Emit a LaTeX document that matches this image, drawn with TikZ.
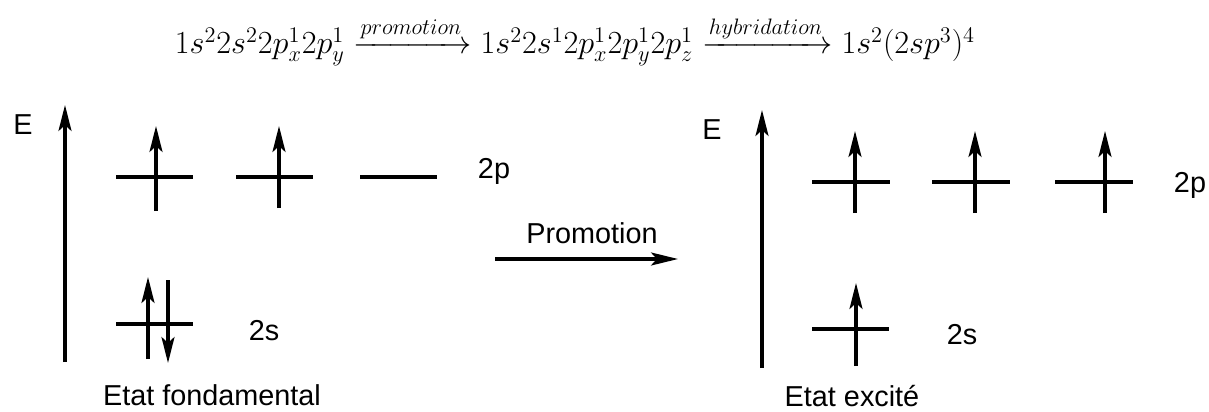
\documentclass[tikz,border=0pt]{standalone}
\usepackage{amsmath}
\usepackage{graphicx}
\usepackage{fontspec}
\setmainfont{Liberation Sans}
\usetikzlibrary{arrows.meta}

\begin{document}
\begin{tikzpicture}[
        x=0.02cm, y=-0.02cm,
        every node/.style={font=\fontsize{16.4}{19}\selectfont, inner sep=0pt},
        lvl/.style={line width=1.8pt},
        ax/.style={line width=1.8pt, -{Stealth[length=26*0.02cm, width=13*0.02cm, inset=6*0.02cm]}},
        spin/.style={line width=1.8pt, -{Stealth[length=26*0.02cm, width=13*0.02cm, inset=6*0.02cm]}},
        arr/.style={line width=1.8pt, -{Stealth[length=27*0.02cm, width=13*0.02cm, inset=6*0.02cm]}},
        lbl/.style={anchor=base},
      ]
      \useasboundingbox (0,0) rectangle (1209,412);

      % formula
      \node[lbl] (eq) at (575,54) {\fontsize{17.28}{21}\selectfont\scalebox{1.06}{%
        $1s^2 2s^2 2p_x^1 2p_y^1 \xrightarrow{promotion} 1s^2 2s^1 2p_x^1 2p_y^1 2p_z^1
        \xrightarrow{hybridation} 1s^2 (2sp^3)^4$}};

      % ground state
      \coordinate (ga0) at (65,362);
      \coordinate (ga1) at (65,105);
      \draw[ax] (ga0) -- (ga1);
      \node (gE) at (23,125) {E};

      \coordinate (gp1a) at (116,177); \coordinate (gp1b) at (193,177);
      \coordinate (gp2a) at (236,177); \coordinate (gp2b) at (313,177);
      \coordinate (gp3a) at (360,177); \coordinate (gp3b) at (437,177);
      \draw[lvl] (gp1a) -- (gp1b);
      \draw[lvl] (gp2a) -- (gp2b);
      \draw[lvl] (gp3a) -- (gp3b);
      \coordinate (gu1a) at (156,211); \coordinate (gu1b) at (156,126);
      \coordinate (gu2a) at (279,208); \coordinate (gu2b) at (279,126);
      \draw[spin] (gu1a) -- (gu1b);
      \draw[spin] (gu2a) -- (gu2b);
      \node[lbl] (g2p) at (494,178) {2p};

      \coordinate (gsa) at (116,324); \coordinate (gsb) at (193,324);
      \draw[lvl] (gsa) -- (gsb);
      \coordinate (gs1a) at (148,359); \coordinate (gs1b) at (148,277);
      \coordinate (gs2a) at (168,280); \coordinate (gs2b) at (168,363);
      \draw[spin] (gs1a) -- (gs1b);
      \draw[spin] (gs2a) -- (gs2b);
      \node[lbl] (g2s) at (264,340) {2s};

      \node[lbl] (gname) at (212,405) {Etat fondamental};

      % promotion
      \coordinate (pa) at (495,259);
      \coordinate (pb) at (678,259);
      \draw[arr] (pa) -- (pb);
      \node[lbl] (pl) at (592,243) {Promotion};

      % excited state
      \coordinate (ea0) at (762,368);
      \coordinate (ea1) at (762,110);
      \draw[ax] (ea0) -- (ea1);
      \node (eE) at (712,130) {E};

      \coordinate (ep1a) at (812,182); \coordinate (ep1b) at (890,182);
      \coordinate (ep2a) at (932,182); \coordinate (ep2b) at (1010,182);
      \coordinate (ep3a) at (1055,182); \coordinate (ep3b) at (1133,182);
      \draw[lvl] (ep1a) -- (ep1b);
      \draw[lvl] (ep2a) -- (ep2b);
      \draw[lvl] (ep3a) -- (ep3b);
      \coordinate (eu1a) at (855,213); \coordinate (eu1b) at (855,131);
      \coordinate (eu2a) at (975,213); \coordinate (eu2b) at (975,131);
      \coordinate (eu3a) at (1105,213); \coordinate (eu3b) at (1105,131);
      \draw[spin] (eu1a) -- (eu1b);
      \draw[spin] (eu2a) -- (eu2b);
      \draw[spin] (eu3a) -- (eu3b);
      \node[lbl] (e2p) at (1190,192) {2p};

      \coordinate (esa) at (812,329); \coordinate (esb) at (889,329);
      \draw[lvl] (esa) -- (esb);
      \coordinate (es1a) at (856,366); \coordinate (es1b) at (856,283);
      \draw[spin] (es1a) -- (es1b);
      \node[lbl] (e2s) at (962,344) {2s};

      \node[lbl] (ename) at (852,406) {Etat excité};
    \end{tikzpicture}
\end{document}
